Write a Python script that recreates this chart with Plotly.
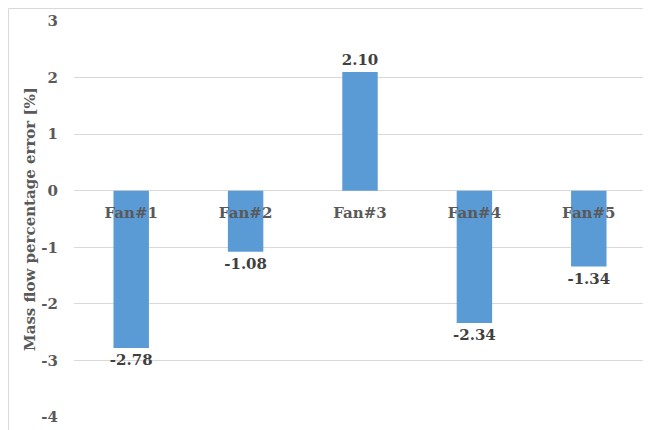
import plotly.graph_objects as go

categories = ["Fan#1", "Fan#2", "Fan#3", "Fan#4", "Fan#5"]
values = [-2.78, -1.08, 2.10, -2.34, -1.34]
value_labels = ["-2.78", "-1.08", "2.10", "-2.34", "-1.34"]
y_ticks = [3, 2, 1, 0, -1, -2, -3, -4]
y_title = "Mass flow percentage error [%]"

FONT = "DejaVu Serif"
GRAY = "#595959"
# the page adds an 8px body margin, so the figure is sized to the visible area
W, H = 643, 422
L, R, T, B = 66, 5, 13, 13
ymin, ymax = -4, 3

fig = go.Figure()
fig.add_trace(go.Bar(
    x=categories, y=values,
    marker=dict(color="#5B9BD5", line=dict(width=0)),
    text=value_labels, textposition="outside", constraintext="none",
    textfont=dict(family=FONT, size=15, color="#404040", weight="bold"),
    cliponaxis=False, width=0.31,
))

pw = W - L - R
ph = H - T - B
fig.update_layout(
    width=W, height=H,
    margin=dict(l=L, r=R, t=T, b=B, pad=0, autoexpand=False),
    paper_bgcolor="white", plot_bgcolor="white",
    showlegend=False,
    xaxis=dict(
        anchor="free", position=(0 - ymin) / (ymax - ymin), automargin=False,
        showgrid=False, showline=False, zeroline=False,
        ticks="outside", ticklen=8, tickcolor="rgba(0,0,0,0)",
        tickfont=dict(family=FONT, size=15, color=GRAY, weight="bold"),
    ),
    yaxis=dict(
        range=[ymin, ymax], tickvals=y_ticks, ticktext=[str(v) for v in y_ticks],
        automargin=False,
        showgrid=True, gridcolor="#D9D9D9", gridwidth=1,
        zeroline=True, zerolinecolor="#D9D9D9", zerolinewidth=1,
        showline=False, ticks="outside", ticklen=12, tickcolor="rgba(0,0,0,0)",
        tickfont=dict(family=FONT, size=15, color=GRAY, weight="bold"),
        title=dict(text=y_title, standoff=2,
                   font=dict(family=FONT, size=15, color=GRAY, weight="bold")),
    ),
    shapes=[dict(
        type="rect", xref="paper", yref="paper",
        x0=(0.5 - L) / pw, x1=(W + 20 - L) / pw,
        y0=-(B + 20) / ph, y1=1 + (T - 0.5) / ph,
        line=dict(color="#D9D9D9", width=1), fillcolor="rgba(0,0,0,0)", layer="below",
    )],
)

fig.write_html("out.html")
